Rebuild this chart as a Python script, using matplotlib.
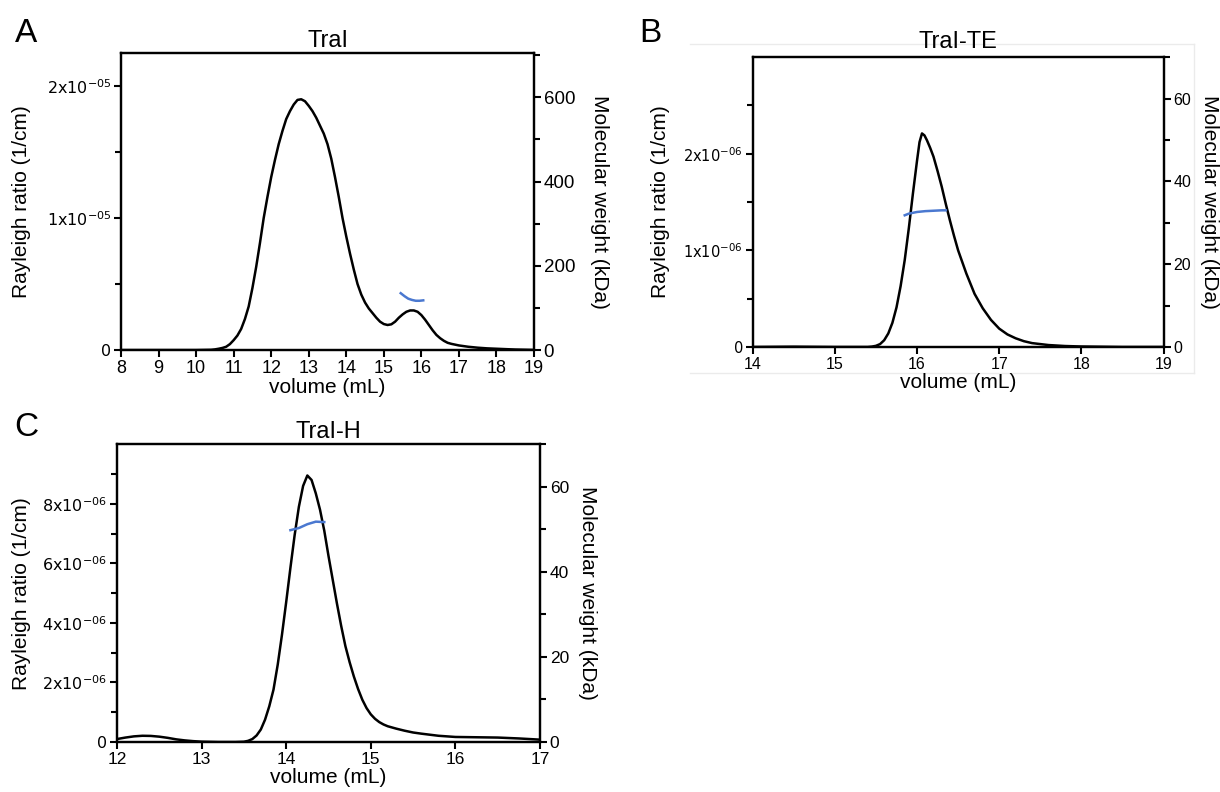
import matplotlib
matplotlib.use("Agg")
import matplotlib.pyplot as plt
from matplotlib.lines import Line2D

plt.rcParams['font.family'] = ['Liberation Sans', 'DejaVu Sans']

# ---- Panel A: TraI ----
a_vol = [8.0, 9.0, 10.0, 10.4, 10.5, 10.6, 10.7, 10.8, 10.9, 11.0, 11.1, 11.2, 11.3, 11.4,
         11.5, 11.6, 11.7, 11.8, 11.9, 12.0, 12.1, 12.2, 12.3, 12.4, 12.5, 12.6, 12.7,
         12.8, 12.9, 13.0, 13.1, 13.2, 13.3, 13.4, 13.5, 13.6, 13.7, 13.8, 13.9, 14.0,
         14.1, 14.2, 14.3, 14.4, 14.5, 14.6, 14.7, 14.8, 14.9, 15.0, 15.1, 15.2, 15.3,
         15.4, 15.5, 15.6, 15.7, 15.8, 15.9, 16.0, 16.1, 16.2, 16.3, 16.4, 16.5, 16.6,
         16.7, 16.8, 17.0, 17.25, 17.5, 17.75, 18.0, 18.5, 19.0]
a_ray = [0.0, 0.0, 0.0, 0.002, 0.005, 0.01, 0.016, 0.025, 0.045, 0.075, 0.11, 0.16, 0.235, 0.33,
         0.47, 0.63, 0.81, 1.0, 1.16, 1.31, 1.44, 1.56, 1.66, 1.75, 1.81, 1.86, 1.895,
         1.90, 1.885, 1.85, 1.81, 1.76, 1.70, 1.64, 1.56, 1.45, 1.31, 1.16, 1.0, 0.86,
         0.73, 0.61, 0.50, 0.42, 0.36, 0.315, 0.28, 0.245, 0.215, 0.197, 0.19, 0.195, 0.215,
         0.245, 0.27, 0.29, 0.30, 0.30, 0.29, 0.265, 0.23, 0.19, 0.15, 0.115, 0.09, 0.07,
         0.055, 0.047, 0.035, 0.025, 0.018, 0.013, 0.01, 0.004, 0.001]  # x1e-5
a_mw_vol = [15.45, 15.55, 15.65, 15.75, 15.85, 15.95, 16.05]
a_mw = [135, 128, 122, 119, 117, 117, 118]

# ---- Panel B: TraI-TE ----
b_vol = [14.0, 14.5, 15.0, 15.4, 15.45, 15.5, 15.55, 15.6, 15.65, 15.7, 15.75, 15.8, 15.85,
         15.9, 15.95, 16.0, 16.03, 16.06, 16.09, 16.12, 16.16, 16.2, 16.25, 16.3, 16.35,
         16.4, 16.45, 16.5, 16.55, 16.6, 16.7, 16.8, 16.9, 17.0, 17.1, 17.2, 17.3, 17.4,
         17.6, 17.8, 18.0, 18.5, 19.0]
b_ray = [0.0, 0.003, 0.0, 0.0, 0.004, 0.012, 0.03, 0.07, 0.14, 0.25, 0.41, 0.63, 0.90,
         1.23, 1.59, 1.93, 2.12, 2.21, 2.19, 2.14, 2.06, 1.97, 1.82, 1.66, 1.48,
         1.31, 1.15, 1.0, 0.88, 0.76, 0.55, 0.40, 0.28, 0.19, 0.13, 0.09, 0.06, 0.04,
         0.02, 0.01, 0.005, 0.0, 0.0]  # x1e-6
b_mw_vol = [15.85, 15.9, 16.0, 16.1, 16.2, 16.3, 16.35]
b_mw = [31.8, 32.2, 32.6, 32.8, 32.9, 33.0, 33.0]

# ---- Panel C: TraI-H ----
c_vol = [12.0, 12.1, 12.2, 12.3, 12.4, 12.5, 12.6, 12.7, 12.8, 12.9, 13.0, 13.2, 13.4, 13.5,
         13.55, 13.6, 13.65, 13.7, 13.75, 13.8, 13.85, 13.9, 13.95, 14.0, 14.05, 14.1,
         14.15, 14.2, 14.25, 14.3, 14.35, 14.4, 14.45, 14.5, 14.55, 14.6, 14.65, 14.7,
         14.75, 14.8, 14.85, 14.9, 14.95, 15.0, 15.05, 15.1, 15.15, 15.2, 15.3, 15.4,
         15.5, 15.6, 15.8, 16.0, 16.25, 16.5, 16.75, 17.0]
c_ray = [0.10, 0.15, 0.19, 0.21, 0.205, 0.18, 0.14, 0.09, 0.055, 0.03, 0.012, 0.0, 0.0, 0.01,
         0.04, 0.10, 0.22, 0.42, 0.75, 1.2, 1.76, 2.6, 3.6, 4.7, 5.85, 6.95,
         7.9, 8.6, 8.95, 8.8, 8.35, 7.8, 7.1, 6.25, 5.45, 4.65, 3.9, 3.22,
         2.68, 2.2, 1.78, 1.42, 1.14, 0.93, 0.78, 0.67, 0.59, 0.53, 0.45, 0.38,
         0.32, 0.28, 0.21, 0.17, 0.16, 0.15, 0.12, 0.08]  # x1e-6
c_mw_vol = [14.05, 14.15, 14.25, 14.35, 14.45]
c_mw = [49.8, 50.3, 51.2, 51.8, 51.7]

panels = [
    dict(letter='A', title='TraI', pos=[0.0992, 0.558, 0.3385, 0.375],
         vol=a_vol, ray=a_ray, scale=1e-5, mw_vol=a_mw_vol, mw=a_mw,
         xlim=(8, 19), xticks=list(range(8, 20)),
         ylim=(0, 2.25e-5), yticks=[0, 1e-5, 2e-5], yminor=[0.5e-5, 1.5e-5],
         ylabels=['0', r'1x10$^{-05}$', r'2x10$^{-05}$'],
         y2lim=(0, 705), y2ticks=[0, 200, 400, 600], y2minor=[100, 300, 500, 700],
         fs_x=13, fs_y=11.5, fs_y2=13.5, lab_x=22, lab2_x=600,
         letter_xy=(0.012, 0.958), title_y=1.02),
    dict(letter='B', title='TraI-TE', pos=[0.617, 0.5619, 0.3367, 0.366],
         vol=b_vol, ray=b_ray, scale=1e-6, mw_vol=b_mw_vol, mw=b_mw,
         xlim=(14, 19), xticks=list(range(14, 20)),
         ylim=(0, 3.0e-6), yticks=[0, 1e-6, 2e-6], yminor=[0.5e-6, 1.5e-6, 2.5e-6],
         ylabels=['0', r'1x10$^{-06}$', r'2x10$^{-06}$'],
         y2lim=(0, 70), y2ticks=[0, 20, 40, 60], y2minor=[10, 30, 50, 70],
         fs_x=11.5, fs_y=10.5, fs_y2=11.5, lab_x=660, lab2_x=1209,
         letter_xy=(0.524, 0.958), title_y=1.03),
    dict(letter='C', title='TraI-H', pos=[0.0959, 0.0631, 0.3467, 0.376],
         vol=c_vol, ray=c_ray, scale=1e-6, mw_vol=c_mw_vol, mw=c_mw,
         xlim=(12, 17), xticks=list(range(12, 18)),
         ylim=(0, 1.0e-5), yticks=[0, 2e-6, 4e-6, 6e-6, 8e-6],
         yminor=[1e-6, 3e-6, 5e-6, 7e-6, 9e-6],
         ylabels=['0', r'2x10$^{-06}$', r'4x10$^{-06}$', r'6x10$^{-06}$', r'8x10$^{-06}$'],
         y2lim=(0, 70), y2ticks=[0, 20, 40, 60], y2minor=[10, 30, 50, 70],
         fs_x=12.5, fs_y=11.5, fs_y2=12.5, lab_x=22, lab2_x=588,
         letter_xy=(0.012, 0.46), title_y=1.02),
]

W, H = 1220, 792
fig = plt.figure(figsize=(12.2, 7.92), dpi=100)

# faint frame around panel B (as in the source image)
frame_col = '#ebebeb'
for xs, ys in [([690, 1194], [44, 44]), ([1194, 1194], [44, 373]), ([690, 1194], [373, 373])]:
    fig.add_artist(Line2D([x / W for x in xs], [1 - y / H for y in ys],
                          color=frame_col, lw=1, zorder=-1))

for p in panels:
    ax = fig.add_axes(p['pos'])
    ax2 = ax.twinx()
    yvals = [v * p['scale'] for v in p['ray']]
    ax.plot(p['vol'], yvals, color='black', lw=1.8, zorder=3)
    ax2.plot(p['mw_vol'], p['mw'], color='#4a78d0', lw=1.8)

    ax.set_xlim(*p['xlim'])
    ax.set_ylim(*p['ylim'])
    ax2.set_ylim(*p['y2lim'])
    ax.set_xticks(p['xticks'])
    ax.set_xticklabels([str(t) for t in p['xticks']], fontsize=p['fs_x'])
    ax.set_yticks(p['yticks'])
    ax.set_yticks(p['yminor'], minor=True)
    ax.set_yticklabels(p['ylabels'], fontsize=p['fs_y'], family='DejaVu Sans')
    ax2.set_yticks(p['y2ticks'])
    ax2.set_yticks(p['y2minor'], minor=True)
    ax2.set_yticklabels([str(t) for t in p['y2ticks']], fontsize=p['fs_y2'])

    for a in (ax, ax2):
        for s in a.spines.values():
            s.set_linewidth(1.6)
        a.tick_params(which='major', direction='out', length=5, width=1.5, pad=2)
        a.tick_params(which='minor', direction='out', length=4, width=1.5)

    ax.set_xlabel('volume (mL)', fontsize=15, labelpad=1)
    ymid = p['pos'][1] + p['pos'][3] / 2
    fig.text(p['lab_x'] / W, ymid, 'Rayleigh ratio (1/cm)', fontsize=15,
             rotation=90, ha='center', va='center')
    fig.text(p['lab2_x'] / W, ymid, 'Molecular weight (kDa)', fontsize=15,
             rotation=-90, ha='center', va='center')
    ax.set_title(p['title'], fontsize=17, y=p['title_y'], pad=0)
    fig.text(p['letter_xy'][0], p['letter_xy'][1], p['letter'], fontsize=24,
             ha='left', va='center')

fig.savefig('out.png', dpi=100)
